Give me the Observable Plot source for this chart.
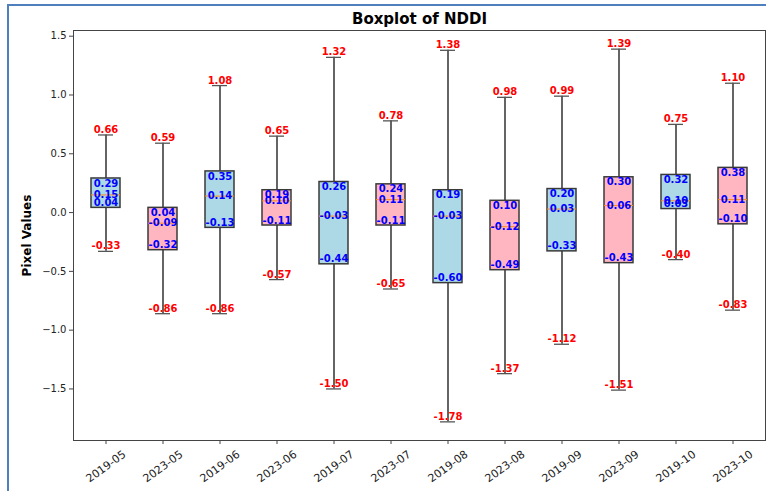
<!DOCTYPE html>
<html>
<head>
<meta charset="utf-8">
<script src="https://cdn.jsdelivr.net/npm/d3@7"></script>
<script src="https://cdn.jsdelivr.net/npm/@observablehq/plot@0.6"></script>
<style>
  html, body { margin: 0; padding: 0; background: #fff; }
  #wrap { position: relative; width: 766px; height: 491px; overflow: hidden; }
  #border { position: absolute; left: 7px; top: 4px; width: 800px; height: 600px;
            border-left: 2px solid #4f7fbd; border-top: 2px solid #4f7fbd; pointer-events: none; }
  #chart { position: absolute; left: 0; top: 0; }
</style>
</head>
<body>
<div id="wrap"><div id="chart"></div><div id="border"></div></div>
<script>
const categories = ["2019-05","2023-05","2019-06","2023-06","2019-07","2023-07","2019-08","2023-08","2019-09","2023-09","2019-10","2023-10"];
const mins    = [-0.33, -0.86, -0.86, -0.57, -1.50, -0.65, -1.78, -1.37, -1.12, -1.51, -0.40, -0.83];
const q1s     = [ 0.04, -0.32, -0.13, -0.11, -0.44, -0.11, -0.60, -0.49, -0.33, -0.43,  0.03, -0.10];
const medians = [ 0.15, -0.09,  0.14,  0.10, -0.03,  0.11, -0.03, -0.12,  0.03,  0.06,  0.10,  0.11];
const q3s     = [ 0.29,  0.04,  0.35,  0.19,  0.26,  0.24,  0.19,  0.10,  0.20,  0.30,  0.32,  0.38];
const maxs    = [ 0.66,  0.59,  1.08,  0.65,  1.32,  0.78,  1.38,  0.98,  0.99,  1.39,  0.75,  1.10];
const yTicks  = [-1.5, -1.0, -0.5, 0.0, 0.5, 1.0, 1.5];

const rows = categories.map((c, i) => ({
  cat: c, year: c.slice(0, 4),
  min: mins[i], q1: q1s[i], med: medians[i], q3: q3s[i], max: maxs[i]
}));

const lo = d3.min(mins), hi = d3.max(maxs), span = hi - lo;
const fmt = v => v.toFixed(2);
const labelFont = {fontFamily: "DejaVu Sans", fontWeight: "bold", fontSize: 10};

const chart = Plot.plot({
  width: 766,
  height: 491,
  marginTop: 30,
  marginBottom: 51,
  marginLeft: 73,
  marginRight: 1,
  style: {fontFamily: "DejaVu Sans", fontSize: "10px", background: "#fff", color: "#222"},
  x: {type: "band", domain: categories, paddingInner: 0.5, paddingOuter: 0.25, align: 0.5, label: null},
  y: {domain: [lo - 0.05 * span, hi + 0.05 * span], label: null},
  color: {domain: ["2019", "2023"], range: ["#add8e6", "#ffb6c1"]},
  marks: [
    Plot.axisY({ticks: yTicks, tickFormat: d3.format(".1f"), tickSize: 4, tickPadding: 3, label: null, fontSize: 10, stroke: "#444"}),
    Plot.axisX({tickSize: 4, tickFormat: () => "", label: null, stroke: "#444"}),
    Plot.text(categories, {x: d => d, frameAnchor: "bottom", lineAnchor: "middle", textAnchor: "middle", dy: 26, rotate: -36, fontSize: 11, fill: "#222"}),
    Plot.ruleX(rows, {x: "cat", y1: "min", y2: "q1", stroke: "#111", strokeWidth: 1.3}),
    Plot.ruleX(rows, {x: "cat", y1: "q3", y2: "max", stroke: "#111", strokeWidth: 1.3}),
    Plot.barY(rows, {x: "cat", y1: "q1", y2: "q3", fill: "year", stroke: "#3a3a3a", strokeWidth: 1.5}),
    Plot.tickY(rows, {x: "cat", y: "med", stroke: "#ff8c1a", strokeWidth: 1}),
    Plot.tickY(rows, {x: "cat", y: "min", stroke: "#555", strokeWidth: 1.3, insetLeft: 7, insetRight: 7}),
    Plot.tickY(rows, {x: "cat", y: "max", stroke: "#555", strokeWidth: 1.3, insetLeft: 7, insetRight: 7}),
    Plot.text(rows, {x: "cat", y: "max", text: d => fmt(d.max), fill: "red", lineAnchor: "bottom", dy: -2, ...labelFont}),
    Plot.text(rows, {x: "cat", y: "min", text: d => fmt(d.min), fill: "red", lineAnchor: "bottom", dy: -2, ...labelFont}),
    Plot.text(rows, {x: "cat", y: "q3", text: d => fmt(d.q3), fill: "blue", lineAnchor: "top", dy: 1, ...labelFont}),
    Plot.text(rows, {x: "cat", y: "med", text: d => fmt(d.med), fill: "blue", lineAnchor: "middle", ...labelFont}),
    Plot.text(rows, {x: "cat", y: "q1", text: d => fmt(d.q1), fill: "blue", lineAnchor: "bottom", dy: -2, ...labelFont}),
    Plot.frame({stroke: "#444", strokeWidth: 1}),
    Plot.text(["Boxplot of NDDI"], {frameAnchor: "top", lineAnchor: "middle", textAnchor: "middle", dy: -11, fontFamily: "DejaVu Sans", fontWeight: "bold", fontSize: 15, fill: "#000"}),
    Plot.text(["Pixel Values"], {frameAnchor: "left", lineAnchor: "middle", textAnchor: "middle", dx: -46, rotate: -90, fontFamily: "DejaVu Sans", fontWeight: "bold", fontSize: 12, fill: "#000"})
  ]
});
document.getElementById("chart").appendChild(chart);
</script>
</body>
</html>
